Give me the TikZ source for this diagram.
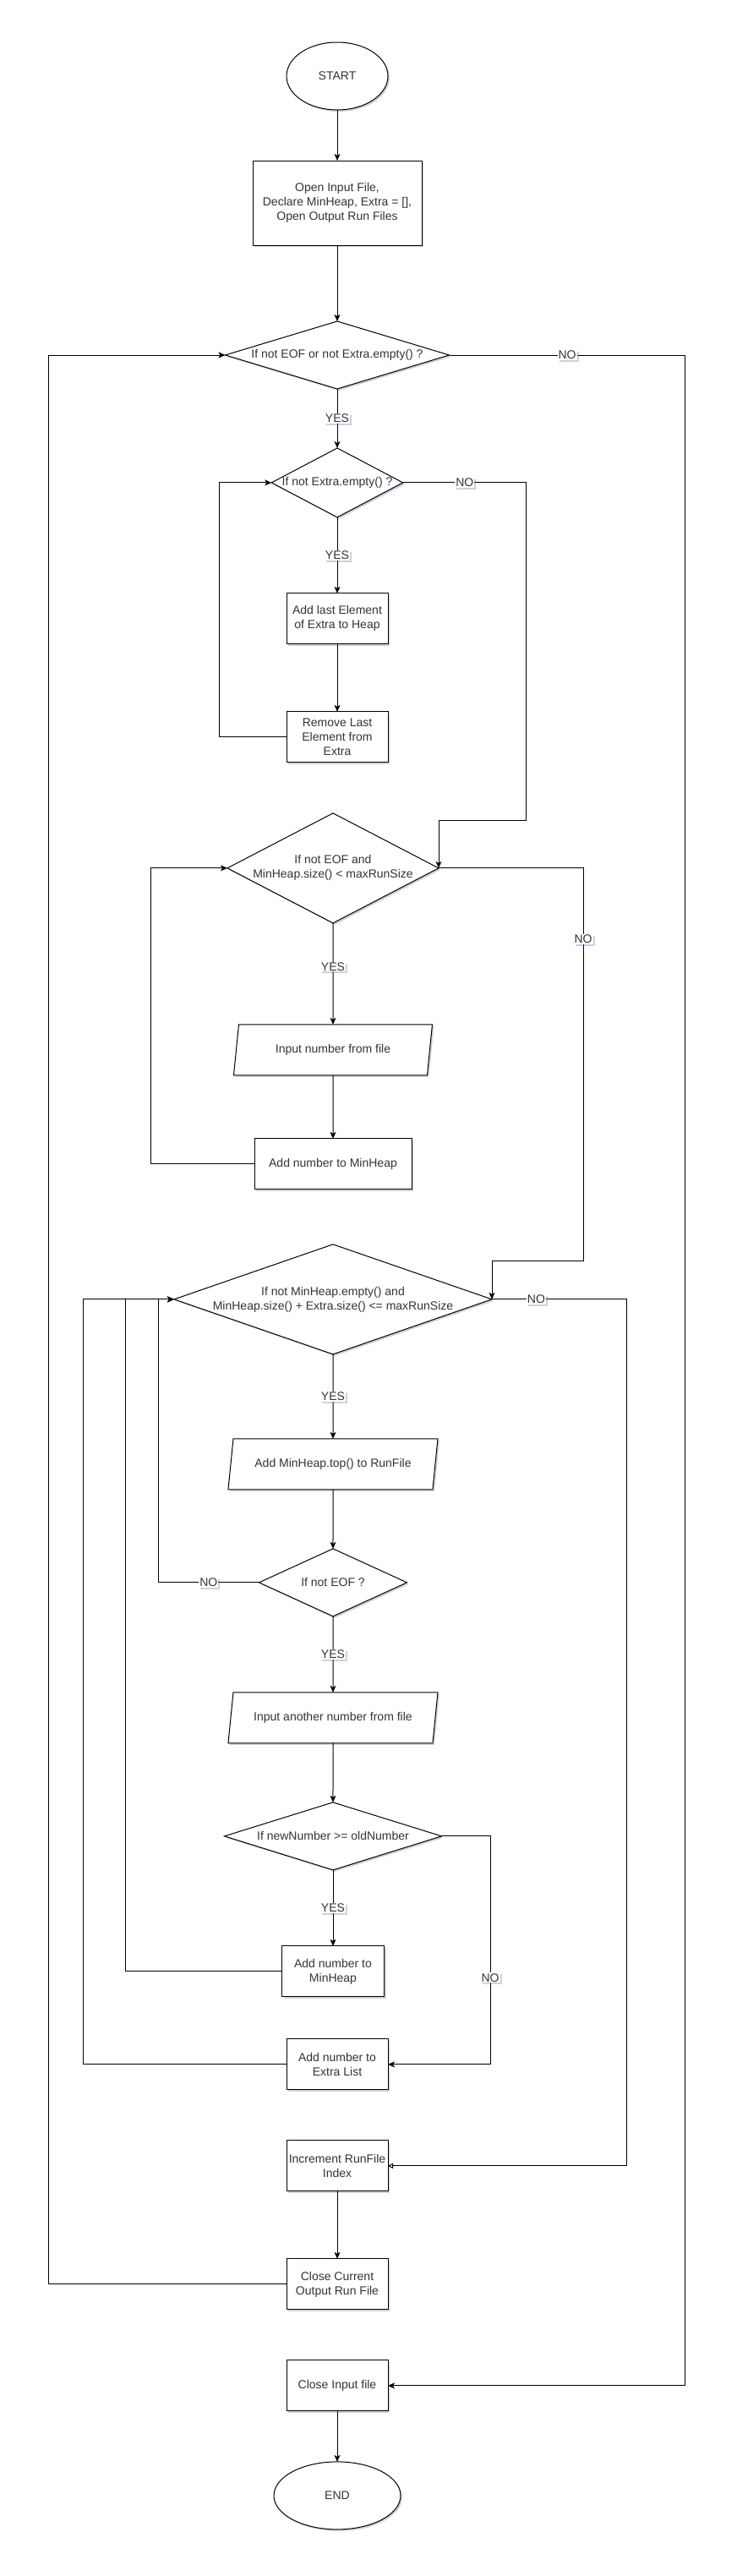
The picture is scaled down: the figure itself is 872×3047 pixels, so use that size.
\documentclass[tikz,border=0pt]{standalone}
\usepackage{fontspec}
\setmainfont{Liberation Sans}
\usepackage{tikz}
\usetikzlibrary{positioning, arrows.meta, shapes.geometric, shadows}

\begin{document}
\begin{tikzpicture}[ align = center
                     , font = \fontsize{14pt}{17pt}\selectfont
                     , text = black!80
                     , line width = 1pt
                     , >={Stealth[length=8pt, width=7pt, inset=2pt]}
                     , softshadow/.style = {drop shadow={shadow xshift=2pt,shadow yshift=-2pt,fill=blue!25!gray,opacity=0.3}}
                     , box/.style = { rectangle
                                    , draw = black
                                    , fill = white
                                    , softshadow
                                    , minimum width = 120pt
                                    , minimum height = 60pt
                                    , inner sep = 2pt
                                    , outer sep = 0pt }
                     , decision/.style = { diamond
                                         , draw = black
                                         , fill = white
                                         , softshadow
                                         , inner sep = 0pt
                                         , outer sep = 0pt }
                     , io/.style = { trapezium
                                   , trapezium left angle = 73
                                   , trapezium right angle = 107
                                   , trapezium stretches body
                                   , draw = black
                                   , fill = white
                                   , softshadow
                                   , minimum height = 60pt
                                   , outer sep = 0pt }
                     , terminal/.style = { ellipse
                                         , draw = black
                                         , fill = white
                                         , softshadow
                                         , inner sep = 0pt
                                         , outer sep = 0pt
                                         , minimum height = 80pt }
                     , tag/.style = { fill = white, inner sep = 1pt, softshadow }
                     ]

  \useasboundingbox (0,0) rectangle (872pt,-3047pt);

  \node (start) [terminal, minimum width = 120pt] at (399pt,-90pt) {START};
  \node (open) [box, below = 60pt of start, minimum width = 200pt, minimum height = 100pt]
    {Open Input File,\\ Declare MinHeap, Extra = [],\\ Open Output Run Files};
  \node (d1) [decision, below = 90pt of open, aspect = 3.3
             , minimum width = 265pt, minimum height = 80pt]
    {If not EOF or not Extra.empty() ?};
  \node (d2) [decision, below = 70pt of d1, aspect = 1.9
             , minimum width = 150pt, minimum height = 80pt]
    {If not Extra.empty() ?};
  \node (addlast) [box, below = 90pt of d2] {Add last Element\\ of Extra to Heap};
  \node (remove) [box, below = 80pt of addlast] {Remove Last\\ Element from\\ Extra};

  \node (d3) [decision, below = 60pt of remove, xshift = -5pt, aspect = 1.95
             , minimum width = 250pt, minimum height = 130pt]
    {If not EOF and\\ MinHeap.size() < maxRunSize};
  \node (input1) [io, below = 120pt of d3, minimum width = 235pt] {Input number from file};
  \node (addmin1) [box, below = 75pt of input1, minimum width = 186pt] {Add number to MinHeap};

  \node (d4) [decision, below = 65pt of addmin1, aspect = 2.9
             , minimum width = 376pt, minimum height = 130pt]
    {If not MinHeap.empty() and\\ MinHeap.size() + Extra.size() <= maxRunSize};
  \node (addtop) [io, below = 100pt of d4, minimum width = 248pt] {Add MinHeap.top() to RunFile};
  \node (d5) [decision, below = 70pt of addtop, aspect = 2.2
             , minimum width = 175pt, minimum height = 80pt]
    {If not EOF ?};
  \node (input2) [io, below = 90pt of d5, minimum width = 248pt] {Input another number from file};
  \node (d6) [decision, below = 70pt of input2, aspect = 3.2
             , minimum width = 257pt, minimum height = 80pt]
    {If newNumber >= oldNumber};
  \node (addmin2) [box, below = 90pt of d6, minimum width = 121pt] {Add number to\\ MinHeap};
  \node (addextra) [box, below = 50pt of addmin2, xshift = 5pt] {Add number to\\ Extra List};

  \node (increment) [box, below = 60pt of addextra] {Increment RunFile\\ Index};
  \node (closecur) [box, below = 80pt of increment] {Close Current\\ Output Run File};
  \node (closein) [box, below = 60pt of closecur] {Close Input file};
  \node (end) [terminal, below = 60pt of closein, minimum width = 150pt] {END};

  % main line
  \draw[->] (start) -- (open);
  \draw[->] (open) -- (d1);
  \draw[->] (d1) -- node [tag] {YES} (d2);
  \draw[->] (d1.east) -- node [tag] {NO} ++(279pt,0) |- (closein.east);

  % moving Extra back to the heap
  \draw[->] (d2) -- node [tag] {YES} (addlast);
  \draw[->] (addlast) -- (remove);
  \draw[->] (remove.west) -- ++(-80pt,0) |- (d2.west);
  \draw[->] (d2.east) -- node [tag] {NO} ++(146pt,0) -- ++(0,-400pt) -| (d3.east);

  % filling the heap
  \draw[->] (d3) -- node [tag, pos = 0.43] {YES} (input1);
  \draw[->] (input1) -- (addmin1);
  \draw[->] (addmin1.west) -- ++(-123pt,0) |- (d3.west);
  \draw[->] (d3.east) -- ++(171pt,0) -- node [tag, pos = 0.18] {NO} ++(0,-465pt) -| (d4.east);

  % writing one run
  \draw[->] (d4) -- node [tag] {YES} (addtop);
  \draw[-{Triangle[open, length=6pt, width=6pt]}] (d4.east)
    -- node [tag, pos = 0.33] {NO} ++(159pt,0) |- (increment.east);
  \draw[->] (addtop) -- (d5);
  \draw[->] (d5.west) -- node [tag] {NO} ++(-119.5pt,0) |- (d4.west);
  \draw[->] (d5) -- node [tag] {YES} (input2);
  \draw[->] (input2) -- (d6);
  \draw[->] (d6) -- node [tag] {YES} (addmin2);
  \draw[->] (d6.east) -- ++(57.5pt,0) |- node [tag, pos = 0.31] {NO} (addextra.east);
  \draw[->] (addmin2.west) -- ++(-185.5pt,0) |- (d4.west);
  \draw[->] (addextra.west) -- ++(-241pt,0) |- (d4.west);

  % closing
  \draw[->] (increment) -- (closecur);
  \draw[->] (closecur.west) -- ++(-281.5pt,0) |- (d1.west);
  \draw[->] (closein) -- (end);

\end{tikzpicture}
\end{document}
